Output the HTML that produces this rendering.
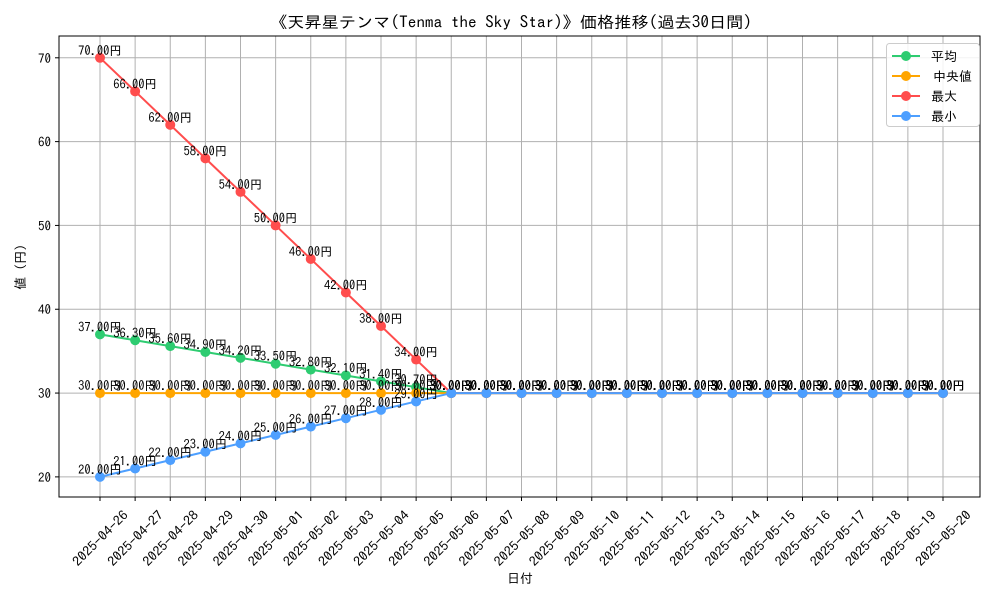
<!DOCTYPE html>
<html><head><meta charset="utf-8"><style>
body{margin:0;background:#fff;}
svg{display:block;font-family:"IPAGothic","Liberation Sans","Noto Sans CJK JP",sans-serif;}
</style></head><body>
<svg id="chart" width="1000" height="600" xmlns="http://www.w3.org/2000/svg"></svg>
<script>
const dates=["2025-04-26","2025-04-27","2025-04-28","2025-04-29","2025-04-30","2025-05-01","2025-05-02","2025-05-03","2025-05-04","2025-05-05","2025-05-06","2025-05-07","2025-05-08","2025-05-09","2025-05-10","2025-05-11","2025-05-12","2025-05-13","2025-05-14","2025-05-15","2025-05-16","2025-05-17","2025-05-18","2025-05-19","2025-05-20"];
const avgValues=[37,36.3,35.6,34.9,34.2,33.5,32.8,32.1,31.4,30.7,30,30,30,30,30,30,30,30,30,30,30,30,30,30,30];
const medianValues=[30,30,30,30,30,30,30,30,30,30,30,30,30,30,30,30,30,30,30,30,30,30,30,30,30];
const maxValues=[70,66,62,58,54,50,46,42,38,34,30,30,30,30,30,30,30,30,30,30,30,30,30,30,30];
const minValues=[20,21,22,23,24,25,26,27,28,29,30,30,30,30,30,30,30,30,30,30,30,30,30,30,30];
const yTicks=[20,30,40,50,60,70];
const seriesNames=["平均","中央値","最大","最小"];

const svg=document.getElementById('chart');
const NS="http://www.w3.org/2000/svg";
const L=59,R=980,T=36,B=497;
const yMin=17.6,yMax=72.6;
function xs(i){return 100+i*(943-100)/(dates.length-1);}
function ys(v){return B-(v-yMin)/(yMax-yMin)*(B-T);}
function mk(tag,attrs,parent){const e=document.createElementNS(NS,tag);for(const k in attrs)e.setAttribute(k,attrs[k]);(parent||svg).appendChild(e);return e;}

mk('rect',{x:0,y:0,width:1000,height:600,fill:'#fff'});
const grid=mk('g',{});


dates.forEach((d,i)=>{mk('line',{x1:xs(i),x2:xs(i),y1:T,y2:B,stroke:'#b0b0b0','stroke-width':1},grid);});
yTicks.forEach(v=>{mk('line',{x1:L,x2:R,y1:ys(v),y2:ys(v),stroke:'#b0b0b0','stroke-width':1},grid);});
mk('rect',{x:L,y:T,width:R-L,height:B-T,fill:'none',stroke:'#000','stroke-width':1});

yTicks.forEach(v=>{
  mk('line',{x1:L-4,x2:L,y1:ys(v),y2:ys(v),stroke:'#000'});
  const t=mk('text',{x:L-8,y:ys(v)+5,'text-anchor':'end','font-size':13});
  t.textContent=v;
  
  
});
dates.forEach((d,i)=>{
  mk('line',{x1:xs(i),x2:xs(i),y1:B,y2:B+4,stroke:'#000'});
  const x=xs(i),y=B+41;
  const t=mk('text',{x:x,y:y+5,'text-anchor':'middle','font-size':13,textLength:72,lengthAdjust:'spacingAndGlyphs',transform:`rotate(-45 ${x} ${y})`});
  t.textContent=d;
  
  
});
let t=mk('text',{x:520,y:583,'text-anchor':'middle','font-size':13});t.textContent='日付';

t=mk('text',{x:25,y:267,'text-anchor':'middle','font-size':13,transform:'rotate(-90 25 267)'});t.textContent='値 (円)';

t=mk('text',{x:511,y:28,'text-anchor':'middle','font-size':16,textLength:482,lengthAdjust:'spacingAndGlyphs'});t.textContent='《天昇星テンマ(Tenma the Sky Star)》価格推移(過去30日間)';


const series=[avgValues,medianValues,maxValues,minValues];
const colors=['#2ecc71','#ffa500','#ff4d4d','#4d9fff'];
const keys=['avg','median','max','min'];
series.forEach((vals,s)=>{
  const g=mk('g',{});
  
  
  mk('polyline',{points:vals.map((v,i)=>xs(i)+','+ys(v)).join(' '),fill:'none',stroke:colors[s],'stroke-width':2},g);
  vals.forEach((v,i)=>{
    const c=mk('circle',{cx:xs(i),cy:ys(v),r:5,fill:colors[s]},g);
    
    
  });
});
series.forEach((vals,s)=>{
  vals.forEach((v,i)=>{
    const tx=mk('text',{x:xs(i),y:ys(v)-3,'text-anchor':'middle','font-size':12.5});
    tx.textContent=v.toFixed(2)+'円';
    
    
  });
});
const lg=mk('g',{});


mk('rect',{x:886.5,y:43.5,width:93,height:83,rx:3,fill:'#fff','fill-opacity':0.85,stroke:'#ccc'},lg);
seriesNames.forEach((n,s)=>{
  const y=56+s*20;
  const e=mk('g',{},lg);
  
  
  mk('line',{x1:892,x2:920,y1:y,y2:y,stroke:colors[s],'stroke-width':2},e);
  mk('circle',{cx:906,cy:y,r:5,fill:colors[s]},e);
  const tt=mk('text',{x:s==1?933:931,y:y+5,'font-size':13},e);tt.textContent=n;
});
</script>
</body></html>
